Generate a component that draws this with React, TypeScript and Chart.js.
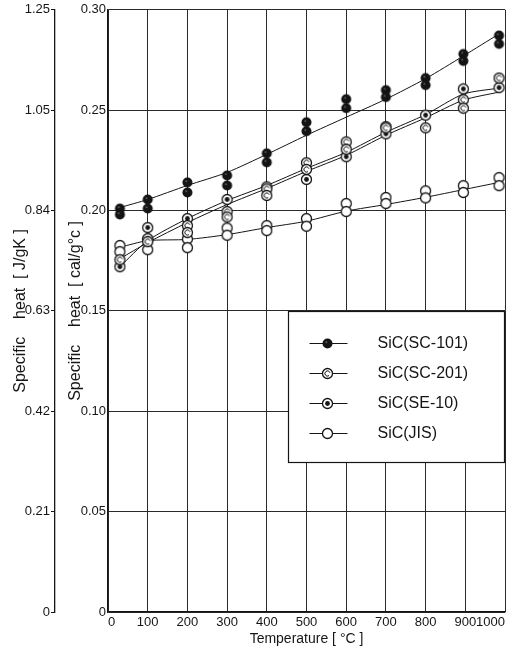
import React, { useEffect, useRef } from 'react';
import { Chart, registerables } from 'chart.js';

Chart.register(...registerables);

// ---- data ----
const temps = [30, 100, 200, 300, 400, 500, 600, 700, 800, 895, 985];

const sc101Upper = [0.201, 0.2055, 0.214, 0.2175, 0.2285, 0.244, 0.2555, 0.26, 0.266, 0.278, 0.2872];
const sc101Lower = [0.198, 0.201, 0.209, 0.2125, 0.224, 0.2395, 0.251, 0.2565, 0.2625, 0.2745, 0.283];
const sc101Fit = [0.2015, 0.2055, 0.2125, 0.219, 0.228, 0.2375, 0.2465, 0.2555, 0.2657, 0.277, 0.288];

const sc201Upper = [0.1755, 0.1845, 0.1925, 0.1995, 0.2108, 0.2238, 0.2342, 0.2418, 0.2412, 0.2552, 0.266];
const sc201Lower = [null, null, 0.189, 0.1968, 0.2075, 0.2205, 0.2305, 0.2412, null, 0.251, null];
const sc201Fit = [0.176, 0.184, 0.194, 0.203, 0.211, 0.2195, 0.2275, 0.2375, 0.2462, 0.255, 0.259];

const se10Upper = [0.172, 0.1915, 0.196, 0.2055, 0.2118, 0.2155, 0.2268, 0.2382, 0.2475, 0.2606, 0.2612];
const se10Lower = [null, 0.186, null, null, null, null, null, null, null, null, null];
const se10Fit = [0.172, 0.185, 0.196, 0.205, 0.2125, 0.221, 0.229, 0.239, 0.2478, 0.258, 0.261];

const jisUpper = [0.1826, 0.1855, 0.1858, 0.1913, 0.1925, 0.196, 0.2035, 0.2065, 0.2098, 0.2124, 0.2164];
const jisLower = [0.1795, 0.1805, 0.1815, 0.1877, 0.19, 0.1922, 0.1995, 0.2035, 0.2063, 0.209, 0.2124];
const jisFit = [0.1817, 0.185, 0.1856, 0.188, 0.1915, 0.1947, 0.1997, 0.203, 0.2066, 0.2104, 0.214];

const seriesNames = ['SiC(SC-101)', 'SiC(SC-201)', 'SiC(SE-10)', 'SiC(JIS)'];
const xTickLabels = ['0', '100', '200', '300', '400', '500', '600', '700', '800', '900', '1000'];
const calTickLabels = ['0', '0.05', '0.10', '0.15', '0.20', '0.25', '0.30'];
const jTickLabels = ['0', '0.21', '0.42', '0.63', '0.84', '1.05', '1.25'];

const FONT = "'Liberation Sans', 'DejaVu Sans', sans-serif";
const INK = '#151515';

function toPoints(values: (number | null)[]) {
  const out: { x: number; y: number }[] = [];
  values.forEach((v, i) => {
    if (v !== null && v !== undefined) out.push({ x: temps[i], y: v });
  });
  return out;
}

function makeMarker(kind: string): HTMLCanvasElement {
  const c = document.createElement('canvas');
  c.width = 13;
  c.height = 13;
  const g = c.getContext('2d')!;
  const cx = 6.5;
  const cy = 6.5;
  g.beginPath();
  g.arc(cx, cy, 5, 0, Math.PI * 2);
  if (kind === 'filled') {
    g.fillStyle = '#141414';
    g.fill();
    g.fillStyle = '#5a5a5a';
    g.beginPath();
    g.arc(cx - 1.2, cy - 1.2, 1, 0, Math.PI * 2);
    g.fill();
    return c;
  }
  g.fillStyle = '#fff';
  g.fill();
  g.strokeStyle = INK;
  g.lineWidth = 1.3;
  g.stroke();
  if (kind === 'ring') {
    g.beginPath();
    g.arc(cx, cy, 2.6, Math.PI * 0.3, Math.PI * 1.9);
    g.lineWidth = 1;
    g.stroke();
  } else if (kind === 'dot') {
    g.beginPath();
    g.arc(cx, cy, 2.4, 0, Math.PI * 2);
    g.fillStyle = INK;
    g.fill();
  }
  return c;
}

export default function App() {
  const ref = useRef<HTMLCanvasElement>(null);

  useEffect(() => {
    const markers = [makeMarker('filled'), makeMarker('ring'), makeMarker('dot'), makeMarker('open')];
    const upper = [sc101Upper, sc201Upper, se10Upper, jisUpper];
    const lower = [sc101Lower, sc201Lower, se10Lower, jisLower];
    const fits = [sc101Fit, sc201Fit, se10Fit, jisFit];

    const datasets: any[] = [];
    seriesNames.forEach((name, i) => {
      datasets.push({
        label: name + ' fit',
        data: toPoints(fits[i]),
        showLine: true,
        borderColor: INK,
        borderWidth: 1,
        pointRadius: 0,
        tension: 0.25,
        yAxisID: 'y',
        order: 2,
      });
      datasets.push({
        label: name,
        data: [...toPoints(upper[i]), ...toPoints(lower[i])],
        showLine: false,
        pointStyle: markers[i],
        pointRadius: 5,
        yAxisID: 'y',
        order: 1,
      });
    });

    const legendPlugin = {
      id: 'boxLegend',
      afterDraw(chart: any) {
        const { ctx, chartArea, scales } = chart;
        const left = Math.round(scales.x.getPixelForValue(453)) + 0.5;
        const right = Math.round(chartArea.right) - 0.5;
        const top = Math.round(scales.y.getPixelForValue(0.15)) + 0.5;
        const bottom = Math.round(scales.y.getPixelForValue(0.0745)) + 0.5;
        ctx.save();
        ctx.fillStyle = '#fff';
        ctx.fillRect(left, top, right - left, bottom - top);
        ctx.strokeStyle = INK;
        ctx.lineWidth = 1.2;
        ctx.strokeRect(left, top, right - left, bottom - top);
        seriesNames.forEach((name, i) => {
          const y = top + 32 + i * 30;
          ctx.beginPath();
          ctx.moveTo(left + 21, y);
          ctx.lineTo(left + 59, y);
          ctx.lineWidth = 1;
          ctx.strokeStyle = INK;
          ctx.stroke();
          const m = markers[i];
          ctx.drawImage(m, Math.round(left + 39 - m.width / 2), Math.round(y - m.height / 2));
          ctx.fillStyle = INK;
          ctx.font = `16px ${FONT}`;
          ctx.textBaseline = 'middle';
          ctx.textAlign = 'left';
          ctx.fillText(name, left + 89, y);
        });
        ctx.restore();
      },
    };

    const tickFont = { family: FONT, size: 13 };
    const titleFont = { family: FONT, size: 16 };

    const chart = new Chart(ref.current!, {
      type: 'scatter',
      data: { datasets },
      plugins: [legendPlugin],
      options: {
        animation: false,
        responsive: false,
        devicePixelRatio: 1,
        layout: { padding: { top: 9, right: 10, left: 0, bottom: 0 } },
        plugins: {
          legend: { display: false },
          tooltip: { enabled: false },
        },
        scales: {
          x: {
            type: 'linear',
            min: 0,
            max: 1000,
            ticks: {
              stepSize: 100,
              autoSkip: false,
              maxRotation: 0,
              align: 'inner',
              padding: 3,
              color: INK,
              font: tickFont,
              callback: (_v: any, i: number) => xTickLabels[i],
            },
            grid: { color: '#2a2a2a', lineWidth: 1, drawTicks: false },
            border: { color: INK, width: 1.3 },
            title: {
              display: true,
              text: 'Temperature [ °C ]',
              color: INK,
              font: { family: FONT, size: 14 },
              padding: { top: 0, bottom: 4 },
            },
            afterFit: (s: any) => {
              s.height = 40;
              s.paddingLeft = 0;
              s.paddingRight = 0;
            },
          },
          y: {
            type: 'linear',
            position: 'left',
            weight: 0,
            min: 0,
            max: 0.3,
            ticks: {
              stepSize: 0.05,
              padding: 2,
              color: INK,
              font: tickFont,
              callback: (_v: any, i: number) => calTickLabels[i],
            },
            grid: { color: '#2a2a2a', lineWidth: 1, drawTicks: false },
            border: { color: INK, width: 1.3 },
            title: {
              display: true,
              text: 'Specific    heat  [ cal/g°c ]',
              color: INK,
              font: titleFont,
              padding: { top: 11, bottom: 0 },
            },
            afterFit: (s: any) => {
              s.width = 53;
            },
          },
          yJ: {
            type: 'linear',
            position: 'left',
            weight: 1,
            min: 0,
            max: 0.3,
            ticks: {
              stepSize: 0.05,
              padding: 1,
              color: INK,
              font: tickFont,
              callback: (_v: any, i: number) => jTickLabels[i],
            },
            grid: { drawOnChartArea: false, drawTicks: true, tickLength: 4, color: INK, lineWidth: 1 },
            border: { color: INK, width: 1.3 },
            title: {
              display: true,
              text: 'Specific    heat  [ J/gK ]',
              color: INK,
              font: titleFont,
              padding: { top: 11, bottom: 0 },
            },
            afterFit: (s: any) => {
              s.width = 55;
            },
          },
        },
      } as any,
    });
    return () => chart.destroy();
  }, []);

  return (
    <div style={{ position: 'fixed', left: 0, top: 0, width: 515, height: 652, background: '#fff' }}>
      <canvas ref={ref} width={515} height={652} style={{ display: 'block' }} />
    </div>
  );
}
